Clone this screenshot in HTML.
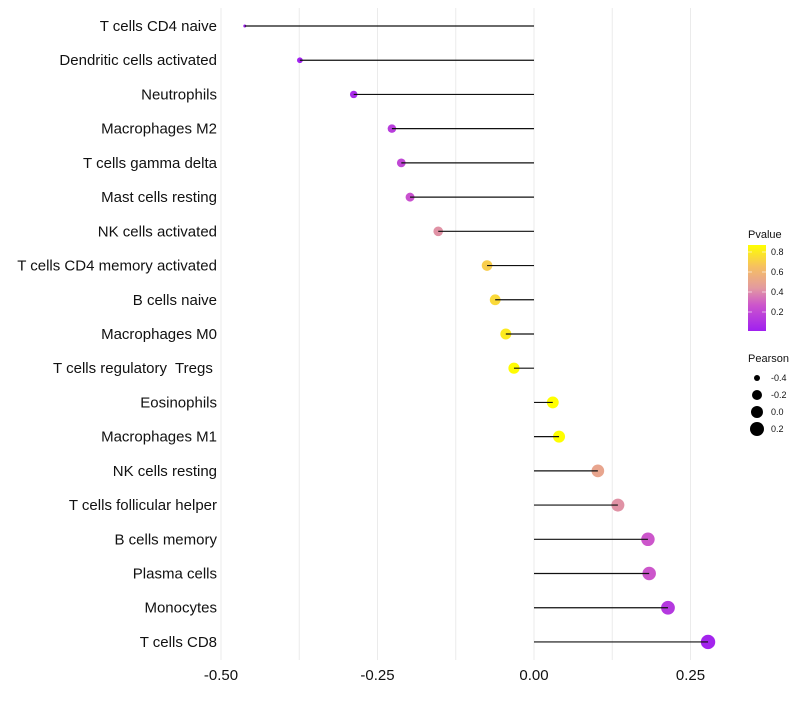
<!DOCTYPE html>
<html><head><meta charset="utf-8"><style>
body{margin:0;background:#fff;font-family:"Liberation Sans",sans-serif;}
svg text{font-family:"Liberation Sans",sans-serif;white-space:pre;}
</style></head><body>
<svg id="chart" width="800" height="700">
<defs><linearGradient id="pg" x1="0" y1="1" x2="0" y2="0">
<stop offset="0" stop-color="#a020f0"/><stop offset="0.3" stop-color="#cc55cc"/><stop offset="0.5" stop-color="#e39aa0"/><stop offset="0.75" stop-color="#f6c060"/><stop offset="1" stop-color="#ffff00"/></linearGradient></defs>
</svg>
<script>
const categories=["T cells CD4 naive","Dendritic cells activated","Neutrophils","Macrophages M2","T cells gamma delta","Mast cells resting","NK cells activated","T cells CD4 memory activated","B cells naive","Macrophages M0","T cells regulatory  Tregs ","Eosinophils","Macrophages M1","NK cells resting","T cells follicular helper","B cells memory","Plasma cells","Monocytes","T cells CD8"];
const pearson=[-0.462,-0.374,-0.288,-0.227,-0.212,-0.198,-0.153,-0.075,-0.062,-0.045,-0.032,0.030,0.040,0.102,0.134,0.182,0.184,0.214,0.278];
const pvalue=[0.01,0.02,0.06,0.15,0.2,0.25,0.42,0.7,0.74,0.8,0.86,0.88,0.87,0.5,0.42,0.27,0.27,0.13,0.03];
const xTicks=[-0.5,-0.25,0,0.25];
const xTickLabels=["-0.50","-0.25","0.00","0.25"];
const legendP=[0.8,0.6,0.4,0.2];
const legendR=[-0.4,-0.2,0.0,0.2];
const NS="http://www.w3.org/2000/svg";
const svg=document.getElementById('chart');
const X=v=>534+v*626;
const Y=i=>26+i*34.22;
const R=v=>Math.sqrt(Math.max(0.5,2.25+67*(v+0.462)));
function col(p){const stops=[[0,[160,32,240]],[0.3,[204,85,204]],[0.5,[227,154,160]],[0.75,[246,192,96]],[1,[255,255,0]]];
let t=Math.max(0,Math.min(1,(p-0.01)/0.86));for(let k=1;k<stops.length;k++){if(t<=stops[k][0]){const a=stops[k-1],b=stops[k];const f=(t-a[0])/(b[0]-a[0]);return 'rgb('+a[1].map((c,j)=>Math.round(c+(b[1][j]-c)*f)).join(',')+')';}}return 'rgb(255,255,0)';}
function mk(tag,attrs,parent){const e=document.createElementNS(NS,tag);for(const k in attrs)e.setAttribute(k,attrs[k]);(parent||svg).appendChild(e);return e;}
for(let g=-0.5;g<=0.3;g+=0.125){const l=mk('line',{x1:X(g),x2:X(g),y1:8,y2:660,stroke:'#ebebeb','stroke-width':1});

}
xTicks.forEach((t,i)=>{const tx=mk('text',{x:X(t),y:680,'text-anchor':'middle','font-size':15,fill:'#111'});tx.textContent=xTickLabels[i];

});
categories.forEach((c,i)=>{const y=Y(i);
const lb=mk('text',{x:217,y:y+5,'text-anchor':'end','font-size':15,fill:'#111'});lb.textContent=c;


const pt=mk('circle',{cx:X(pearson[i]),cy:y,r:R(pearson[i]),fill:col(pvalue[i])});


const ln=mk('line',{x1:X(0),x2:X(pearson[i]),y1:y,y2:y,stroke:'#111','stroke-width':1.2});

});
const t1=mk('text',{x:748,y:238,'font-size':11,fill:'#111'});t1.textContent='Pvalue';


const cb=mk('rect',{x:748,y:245,width:18,height:86,fill:'url(#pg)'});


legendP.forEach(p=>{const y=332-p*100;mk('line',{x1:748,x2:752,y1:y,y2:y,stroke:'#fff','stroke-opacity':0.6});mk('line',{x1:762,x2:766,y1:y,y2:y,stroke:'#fff','stroke-opacity':0.6});
const t=mk('text',{x:771,y:y+3,'font-size':9,fill:'#111'});t.textContent=p.toFixed(1);

});
const t2=mk('text',{x:748,y:362,'font-size':11,fill:'#111'});t2.textContent='Pearson';


const lr=[3,5,6,7];
legendR.forEach((v,i)=>{const y=378+i*17;const c=mk('circle',{cx:757,cy:y,r:lr[i],fill:'#000'});


const t=mk('text',{x:771,y:y+3,'font-size':9,fill:'#111'});t.textContent=v.toFixed(1);

});
</script>
</body></html>
